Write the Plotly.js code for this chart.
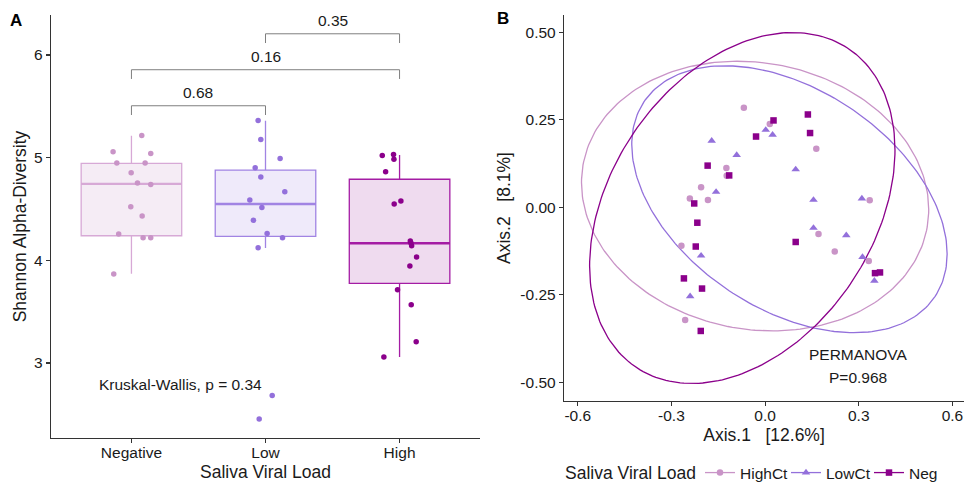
<!DOCTYPE html>
<html>
<head>
<meta charset="utf-8">
<script src="https://cdn.plot.ly/plotly-3.0.1.min.js"></script>
<style>html,body{margin:0;padding:0;background:#fff;}#chart{width:966px;height:482px;}</style>
</head>
<body>
<div id="chart"></div>
<script>
// ---------- Panel A data ----------
var categories = ['Negative', 'Low', 'High'];
var negValues = [3.867, 5.217, 5.058, 5.042, 4.948, 4.948, 4.854, 4.753, 4.740, 4.523, 4.432, 4.257, 4.221, 4.221];
var negJitter = [-0.132, 0.077, -0.137, 0.144, -0.109, 0.102, -0.002, 0.045, 0.144, -0.005, 0.080, -0.095, 0.087, 0.144];
var lowValues = [5.363, 5.178, 4.993, 4.903, 4.812, 4.669, 4.588, 4.516, 4.390, 4.263, 4.221, 4.124, 2.683, 2.456];
var lowJitter = [-0.055, -0.035, 0.109, -0.077, -0.035, 0.144, -0.117, -0.027, -0.090, 0.012, 0.127, -0.055, 0.050, -0.047];
var highValues = [5.022, 5.032, 4.984, 4.864, 4.578, 4.549, 4.189, 4.169, 4.143, 4.033, 3.945, 3.715, 3.569, 3.208, 3.059];
var highJitter = [-0.129, -0.045, -0.042, -0.104, 0.010, -0.040, 0.080, 0.085, 0.090, 0.127, 0.077, -0.015, 0.087, 0.124, -0.117];
// box summaries as drawn
var boxLower  = [3.870, 4.120, 3.058];
var boxQ1     = [4.240, 4.234, 3.776];
var boxMedian = [4.745, 4.549, 4.167];
var boxQ3     = [4.945, 4.880, 4.790];
var boxUpper  = [5.215, 5.360, 5.026];
// pairwise comparisons
var compFrom  = [0, 0, 1];
var compTo    = [1, 2, 2];
var compY     = [5.506, 5.857, 6.207];
var compLabel = ['0.68', '0.16', '0.35'];
var kwLabel = 'Kruskal-Wallis, p = 0.34';

// ---------- Panel B data ----------
var groupsB = ['HighCt', 'LowCt', 'Neg'];
var legendTitle = 'Saliva Viral Load';
var highCtX = [-0.068, 0.015, 0.164, -0.124, -0.123, -0.205, -0.241, -0.183, 0.335, 0.171, 0.223, -0.268, 0.332, -0.256];
var highCtY = [0.284, 0.238, 0.167, 0.112, 0.090, 0.057, 0.025, 0.021, 0.020, -0.076, -0.126, -0.110, -0.153, -0.322];
var lowCtX = [-0.171, -0.091, 0.002, 0.024, -0.157, 0.098, 0.155, 0.310, 0.155, 0.260, -0.205, 0.312, 0.350, -0.240];
var lowCtY = [0.190, 0.149, 0.221, 0.207, 0.044, 0.108, 0.021, 0.025, -0.059, -0.080, -0.138, -0.142, -0.210, -0.254];
var negX = [0.027, 0.137, 0.144, -0.029, -0.184, -0.115, -0.227, -0.217, -0.222, 0.098, -0.260, -0.202, 0.352, 0.368, -0.206];
var negY = [0.248, 0.265, 0.212, 0.202, 0.119, 0.091, 0.011, -0.044, -0.112, -0.099, -0.203, -0.232, -0.188, -0.186, -0.353];
// 95% ellipse summaries (centre, half-extent in x and y, correlation)
var ellCx  = [-0.032, 0.078, -0.073];
var ellCy  = [0.032, 0.023, -0.002];
var ellW   = [0.556, 0.505, 0.489];
var ellH   = [0.385, 0.381, 0.501];
var ellRho = [-0.10, -0.41, 0.33];

// ---------- styles ----------
var colA = ['#C994C7', '#9370DB', '#8B008B'];
var boxLineA = ['#D7A9D6', '#A184E3', '#A41CA4'];
var boxFillA = ['rgba(201,148,199,0.18)', 'rgba(147,112,219,0.15)', 'rgba(139,0,139,0.14)'];
var colB = ['#C994C7', '#9370DB', '#8B008B'];
var symB = ['circle', 'triangle-up', 'square'];
var sizeB = [6.5, 7.5, 6.5];
var legendEntryW = [41, 38, 30];
var FONT = 'Liberation Sans, Arial, sans-serif';
var TXT = '#1a1a1a';

var traces = [];
// boxes
for (var i = 0; i < categories.length; i++) {
  traces.push({
    type: 'box', x: [i], q1: [boxQ1[i]], median: [boxMedian[i]], q3: [boxQ3[i]],
    lowerfence: [boxLower[i]], upperfence: [boxUpper[i]],
    width: 0.75, whiskerwidth: 0, boxpoints: false,
    fillcolor: boxFillA[i], line: {color: boxLineA[i], width: 1.3},
    xaxis: 'x', yaxis: 'y', showlegend: false, hoverinfo: 'skip'
  });
  // thicker median line (as in ggplot)
  traces.push({
    type: 'scatter', mode: 'lines', x: [i - 0.375, i + 0.375], y: [boxMedian[i], boxMedian[i]],
    line: {color: boxLineA[i], width: 2.4},
    xaxis: 'x', yaxis: 'y', showlegend: false, hoverinfo: 'skip'
  });
}
var valsA = [negValues, lowValues, highValues];
var jitA = [negJitter, lowJitter, highJitter];
for (var i = 0; i < categories.length; i++) {
  traces.push({
    type: 'scatter', mode: 'markers',
    x: jitA[i].map(function (j) { return i + j; }),
    y: valsA[i],
    marker: {color: colA[i], size: 5.5},
    xaxis: 'x', yaxis: 'y', showlegend: false, hoverinfo: 'skip'
  });
}
// brackets
var annotations = [];
for (var c = 0; c < compFrom.length; c++) {
  traces.push({
    type: 'scatter', mode: 'lines',
    x: [compFrom[c], compFrom[c], compTo[c], compTo[c]],
    y: [compY[c] - 0.09, compY[c], compY[c], compY[c] - 0.09],
    line: {color: '#7f7f7f', width: 1},
    xaxis: 'x', yaxis: 'y', showlegend: false, hoverinfo: 'skip'
  });
  annotations.push({
    xref: 'x', yref: 'y', x: (compFrom[c] + compTo[c]) / 2, y: compY[c] + 0.03,
    text: compLabel[c], showarrow: false, yanchor: 'bottom', xanchor: 'center',
    font: {family: FONT, size: 15.5, color: TXT}
  });
}
annotations.push({
  xref: 'x', yref: 'y', x: -0.26, y: 2.79, text: kwLabel, showarrow: false,
  xanchor: 'left', yanchor: 'middle', font: {family: FONT, size: 15.5, color: TXT}
});

// Panel B ellipses
for (var g = 0; g < groupsB.length; g++) {
  var ex = [], ey = [];
  var s = Math.sqrt(1 - ellRho[g] * ellRho[g]);
  for (var t = 0; t <= 240; t++) {
    var a = 2 * Math.PI * t / 240;
    ex.push(ellCx[g] + ellW[g] * Math.cos(a));
    ey.push(ellCy[g] + ellH[g] * (ellRho[g] * Math.cos(a) + s * Math.sin(a)));
  }
  traces.push({
    type: 'scatter', mode: 'lines', x: ex, y: ey,
    line: {color: colB[g], width: 1.3},
    xaxis: 'x2', yaxis: 'y2', showlegend: false, hoverinfo: 'skip'
  });
}
var bx = [highCtX, lowCtX, negX], by = [highCtY, lowCtY, negY];
for (var g = 0; g < groupsB.length; g++) {
  traces.push({
    type: 'scatter', mode: 'markers', x: bx[g], y: by[g],
    marker: {color: colB[g], size: sizeB[g], symbol: symB[g]},
    xaxis: 'x2', yaxis: 'y2', showlegend: false, hoverinfo: 'skip'
  });
}
// legend entries
for (var g = 0; g < groupsB.length; g++) {
  traces.push({
    type: 'scatter', mode: 'lines+markers', x: [null], y: [null], name: groupsB[g],
    marker: {color: colB[g], size: sizeB[g], symbol: symB[g]},
    line: {color: colB[g], width: 1.3}, legendwidth: legendEntryW[g],
    xaxis: 'x2', yaxis: 'y2', showlegend: true, hoverinfo: 'skip'
  });
}
annotations.push({
  xref: 'x2', yref: 'y2', x: 0.298, y: -0.42, text: 'PERMANOVA', showarrow: false,
  xanchor: 'center', yanchor: 'middle', font: {family: FONT, size: 15.5, color: TXT}
});
annotations.push({
  xref: 'x2', yref: 'y2', x: 0.298, y: -0.485, text: 'P=0.968', showarrow: false,
  xanchor: 'center', yanchor: 'middle', font: {family: FONT, size: 15.5, color: TXT}
});
annotations.push({
  xref: 'paper', yref: 'paper', x: 16 / 966, y: 1 - 21 / 482, text: '<b>A</b>', showarrow: false,
  xanchor: 'center', yanchor: 'middle', font: {family: FONT, size: 17, color: '#000'}
});
annotations.push({
  xref: 'paper', yref: 'paper', x: 503 / 966, y: 1 - 19 / 482, text: '<b>B</b>', showarrow: false,
  xanchor: 'center', yanchor: 'middle', font: {family: FONT, size: 17, color: '#000'}
});
// legend title
annotations.push({
  xref: 'paper', yref: 'paper', x: 563 / 966, y: 1 - 473 / 482, text: legendTitle, showarrow: false,
  xanchor: 'left', yanchor: 'middle', font: {family: FONT, size: 17.5, color: TXT}
});

var axisCommon = {
  showgrid: false, zeroline: false, showline: true, linecolor: '#333', linewidth: 1.2,
  ticks: 'outside', ticklen: 4, tickcolor: '#333', tickwidth: 1.1,
  tickfont: {family: FONT, size: 15.5, color: TXT}
};
function ax(extra) { var o = {}; for (var k in axisCommon) o[k] = axisCommon[k]; for (var k in extra) o[k] = extra[k]; return o; }

var layout = {
  width: 966, height: 482,
  margin: {l: 0, r: 0, t: 0, b: 0, autoexpand: false},
  paper_bgcolor: '#fff', plot_bgcolor: '#fff',
  font: {family: FONT, color: TXT},
  xaxis: ax({domain: [51 / 966, 480 / 966], range: [-0.6, 2.6], tickvals: [0, 1, 2], ticktext: categories,
    anchor: 'y', automargin: false, ticklabelstandoff: -4,
    title: {text: 'Saliva Viral Load', font: {family: FONT, size: 17.5, color: TXT}, standoff: 10}}),
  yaxis: ax({domain: [1 - 438 / 482, 1 - 15 / 482], range: [2.27, 6.39], tickvals: [3, 4, 5, 6], ticktext: ['3', '4', '5', '6'],
    anchor: 'x', automargin: false, title: {text: 'Shannon Alpha-Diversity', font: {family: FONT, size: 17.5, color: TXT}, standoff: 3}}),
  xaxis2: ax({domain: [564 / 966, 964 / 966], range: [-0.644, 0.637], tickvals: [-0.6, -0.3, 0, 0.3, 0.6],
    ticktext: ['-0.6', '-0.3', '0.0', '0.3', '0.6'], anchor: 'y2', automargin: false, ticklabelstandoff: -4,
    title: {text: 'Axis.1\u00A0\u00A0\u00A0[12.6%]', font: {family: FONT, size: 17.5, color: TXT}, standoff: 6}}),
  yaxis2: ax({domain: [1 - 401 / 482, 1 - 15 / 482], range: [-0.553, 0.549], tickvals: [-0.5, -0.25, 0, 0.25, 0.5],
    ticktext: ['-0.50', '-0.25', '0.00', '0.25', '0.50'], anchor: 'x2', automargin: false,
    title: {text: 'Axis.2\u00A0\u00A0\u00A0[8.1%]', font: {family: FONT, size: 17.5, color: TXT}, standoff: 5}}),
  showlegend: true,
  legend: {
    orientation: 'h', x: 700 / 966, xanchor: 'left', y: 1 - 473 / 482, yanchor: 'middle',
    font: {family: FONT, size: 15.5, color: TXT}, bgcolor: 'rgba(0,0,0,0)', itemwidth: 30, tracegroupgap: 0
  },
  annotations: annotations
};

Plotly.newPlot('chart', traces, layout, {displayModeBar: false, staticPlot: true});
</script>
</body>
</html>
